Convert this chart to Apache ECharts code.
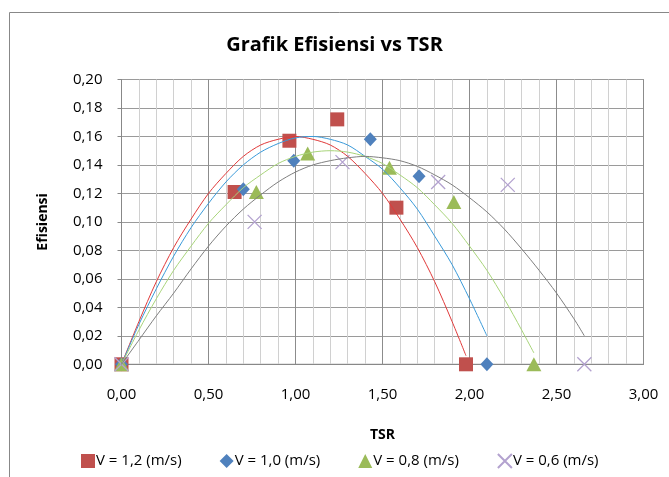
<!DOCTYPE html>
<html><head><meta charset="utf-8">
<script src="https://cdn.jsdelivr.net/npm/echarts@6/dist/echarts.min.js"></script>
<style>html,body{margin:0;padding:0;background:#fff}#c{width:669px;height:477px}</style>
</head><body><div id="c"></div>
<script>
// Measured points
const tsr12 = [0, 0.65, 0.965, 1.24, 1.58, 1.98];
const eff12 = [0, 0.121, 0.157, 0.172, 0.110, 0];
const tsr10 = [0, 0.70, 0.99, 1.43, 1.71, 2.10];
const eff10 = [0, 0.123, 0.143, 0.158, 0.132, 0];
const tsr08 = [0, 0.775, 1.07, 1.54, 1.91, 2.37];
const eff08 = [0, 0.121, 0.148, 0.138, 0.114, 0];
const tsr06 = [0, 0.765, 1.27, 1.82, 2.22, 2.66];
const eff06 = [0, 0.100, 0.142, 0.128, 0.126, 0];
// Trend lines
const trX12 = [0, 0.1, 0.2, 0.3, 0.4, 0.5, 0.6, 0.7, 0.8, 0.9, 1.0, 1.1, 1.2, 1.3, 1.4, 1.5, 1.6, 1.7, 1.8, 1.9, 1.98];
const trY12 = [0, 0.030, 0.058, 0.082, 0.102, 0.120, 0.134, 0.146, 0.154, 0.158, 0.160, 0.158, 0.154, 0.146, 0.134, 0.120, 0.102, 0.082, 0.058, 0.030, 0.006];
const trX10 = [0, 0.1, 0.2, 0.3, 0.4, 0.5, 0.6, 0.7, 0.8, 0.9, 1.0, 1.1, 1.2, 1.3, 1.4, 1.5, 1.6, 1.7, 1.8, 1.9, 2.0, 2.1];
const trY10 = [0, 0.028, 0.053, 0.076, 0.096, 0.113, 0.128, 0.140, 0.149, 0.155, 0.159, 0.160, 0.158, 0.154, 0.146, 0.137, 0.124, 0.109, 0.090, 0.070, 0.046, 0.020];
const trX08 = [0, 0.1, 0.2, 0.3, 0.4, 0.5, 0.6, 0.7, 0.8, 0.9, 1.0, 1.1, 1.2, 1.3, 1.4, 1.5, 1.6, 1.7, 1.8, 1.9, 2.0, 2.1, 2.2, 2.3, 2.37];
const trY08 = [0, 0.024, 0.046, 0.066, 0.083, 0.099, 0.112, 0.124, 0.133, 0.141, 0.146, 0.149, 0.150, 0.149, 0.146, 0.141, 0.133, 0.124, 0.112, 0.099, 0.083, 0.066, 0.046, 0.024, 0.008];
const trX06 = [0, 0.1, 0.2, 0.3, 0.4, 0.5, 0.6, 0.7, 0.8, 0.9, 1.0, 1.1, 1.2, 1.3, 1.4, 1.5, 1.6, 1.7, 1.8, 1.9, 2.0, 2.1, 2.2, 2.3, 2.4, 2.5, 2.6, 2.66];
const trY06 = [0, 0.017, 0.034, 0.050, 0.067, 0.083, 0.097, 0.109, 0.119, 0.128, 0.135, 0.140, 0.143, 0.145, 0.146, 0.145, 0.143, 0.139, 0.133, 0.126, 0.117, 0.107, 0.095, 0.081, 0.066, 0.050, 0.032, 0.020];
const names = ['V = 1,2 (m/s)', 'V = 1,0 (m/s)', 'V = 0,8 (m/s)', 'V = 0,6 (m/s)'];

const zip = (a, b) => a.map((v, i) => [v, b[i]]);
const FONT = 'Open Sans';
const fmt = v => v.toFixed(2).replace('.', ',');
const xPath = 'path://M0,0L10,10M10,0L0,10';

function trend(x, y, color) {
  return { type: 'line', data: zip(x, y), smooth: 0.3, symbol: 'none', silent: true,
    lineStyle: { color: color, width: 1 }, z: 3 };
}

const chart = echarts.init(document.getElementById('c'), null, { renderer: 'canvas' });
chart.setOption({
  animation: false,
  backgroundColor: '#fff',
  title: { text: 'Grafik Efisiensi vs TSR', left: 'center', top: 30,
    textStyle: { fontFamily: FONT, fontSize: 20, fontWeight: 'bold', color: '#000' } },
  grid: { left: 121.5, right: 25.5, top: 79.5, bottom: 112.7, show: true, borderColor: '#888', borderWidth: 1 },
  legend: { data: names, left: 76, top: 448, itemGap: 38, itemWidth: 14, itemHeight: 14,
    textStyle: { fontFamily: FONT, fontSize: 15, color: '#000', padding: [0, 0, 0, -4] } },
  xAxis: { type: 'value', min: 0, max: 3, interval: 0.5,
    name: 'TSR', nameLocation: 'middle', nameGap: 64,
    nameTextStyle: { fontFamily: FONT, fontSize: 14, fontWeight: 'bold', color: '#000' },
    axisLine: { show: true, lineStyle: { color: '#888' } },
    axisTick: { show: false },
    axisLabel: { formatter: fmt, fontFamily: FONT, fontSize: 15, color: '#000', margin: 23 },
    splitLine: { show: true, lineStyle: { color: '#8c8c8c', width: 1 } },
    minorTick: { show: false, splitNumber: 5 },
    minorSplitLine: { show: true, lineStyle: { color: '#d0d0d0', width: 1 } } },
  yAxis: { type: 'value', min: 0, max: 0.2, interval: 0.02,
    name: 'Efisiensi', nameLocation: 'middle', nameGap: 71, nameRotate: 90,
    nameTextStyle: { fontFamily: FONT, fontSize: 14, fontWeight: 'bold', color: '#000' },
    axisLine: { show: true, lineStyle: { color: '#888' } },
    axisTick: { show: true, inside: false, length: 4, lineStyle: { color: '#888' } },
    axisLabel: { formatter: fmt, fontFamily: FONT, fontSize: 15, color: '#000', margin: 19 },
    splitLine: { show: true, lineStyle: { color: '#9a9a9a', width: 1 } } },
  graphic: [{ type: 'rect', shape: { x: 9.5, y: 12.5, width: 700, height: 500 },
    style: { fill: 'none', stroke: '#888', lineWidth: 1 }, z: -1 }],
  series: [
    trend(trX12, trY12, '#e03a3a'),
    trend(trX10, trY10, '#3a9ad9'),
    trend(trX08, trY08, '#a8d47a'),
    trend(trX06, trY06, '#7f7f7f'),
    { name: names[0], type: 'scatter', data: zip(tsr12, eff12), symbol: 'rect', symbolSize: 14,
      itemStyle: { color: '#c0504d', opacity: 1 }, z: 2 },
    { name: names[1], type: 'scatter', data: zip(tsr10, eff10), symbol: 'diamond', symbolSize: [13, 14],
      itemStyle: { color: '#4f81bd', opacity: 1 }, z: 2 },
    { name: names[2], type: 'scatter', data: zip(tsr08, eff08), symbol: 'triangle', symbolSize: [15, 14],
      itemStyle: { color: '#9bbb59', opacity: 1 }, z: 2 },
    { name: names[3], type: 'scatter', data: zip(tsr06, eff06), symbol: xPath, symbolSize: 14,
      itemStyle: { color: 'rgba(0,0,0,0)', borderColor: '#b3a2cf', borderWidth: 1.3, opacity: 1 }, z: 2 }
  ]
});
</script></body></html>
